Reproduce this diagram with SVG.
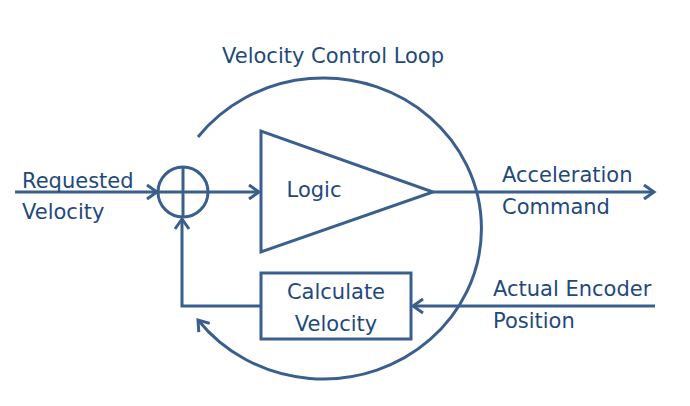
<svg xmlns="http://www.w3.org/2000/svg" width="690" height="406" viewBox="0 0 690 406">
<style>
.ln{fill:none;stroke:#3A5F8E;stroke-width:3}
.tx{font-family:"DejaVu Sans","Liberation Sans",sans-serif;font-size:21px;fill:#1F497D}
.mid{text-anchor:middle}
</style>
<defs>
<marker id="ah" markerUnits="userSpaceOnUse" markerWidth="20" markerHeight="20" viewBox="-12 -10 14 20" refX="0" refY="0" orient="auto">
<path d="M-10,-7 L0,0 L-10,7" fill="none" stroke="#3A5F8E" stroke-width="3" stroke-linejoin="miter"/>
</marker>
</defs>
<rect width="690" height="406" fill="#ffffff"/>
<g id="connectors">
<path class="ln" d="M15,192 L157,192" marker-end="url(#ah)"/>
<path class="ln" d="M208,192 L259,192" marker-end="url(#ah)"/>
<path class="ln" d="M433,192 L654,192" marker-end="url(#ah)"/>
<path class="ln" d="M655,306 L413,306" marker-end="url(#ah)"/>
<path class="ln" d="M261,306 L182,306 L182,219" marker-end="url(#ah)"/>
<path class="ln" d="M198,137 A158,150.5 0 1 1 198,320" marker-end="url(#ah)"/>
</g>
<g id="sum">
<circle class="ln" cx="183" cy="192" r="25"/>
<path class="ln" d="M158,192 L208,192 M183,167 L183,217"/>
</g>
<g id="logic">
<path class="ln" d="M261,131 L261,252 L433,192 Z" stroke-linejoin="miter"/>
<text class="tx mid" x="314" y="197">Logic</text>
</g>
<g id="calc">
<rect class="ln" x="261" y="273" width="150" height="66"/>
<text class="tx mid" x="336" y="299">Calculate</text>
<text class="tx mid" x="336" y="331">Velocity</text>
</g>
<g id="title">
<text class="tx mid" x="333" y="63">Velocity Control Loop</text>
</g>
<g id="input">
<text class="tx" x="22" y="188">Requested</text>
<text class="tx" x="22" y="219">Velocity</text>
</g>
<g id="output">
<text class="tx" x="502" y="182">Acceleration</text>
<text class="tx" x="502" y="214">Command</text>
</g>
<g id="encoder">
<text class="tx" x="493" y="296">Actual Encoder</text>
<text class="tx" x="493" y="328">Position</text>
</g>
</svg>
